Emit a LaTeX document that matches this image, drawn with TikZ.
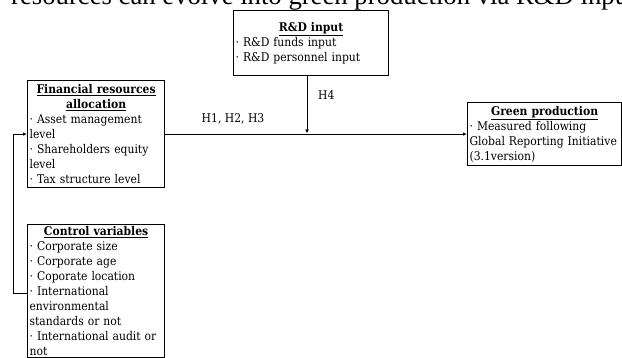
\documentclass[tikz,border=0pt]{standalone}
\usepackage{fontspec}
\setmainfont{DejaVu Serif Condensed}
\newfontfamily\titlefont{Liberation Serif}
\usetikzlibrary{arrows.meta}
\hyphenpenalty=10000
\newcommand\boxhead[1]{\makebox[\linewidth]{\underline{\textbf{#1}}}}
\begin{document}
\begin{tikzpicture}[x=1pt,y=-1pt,
  box/.style={draw, line width=1.2pt, anchor=north west, inner xsep=2pt, inner ysep=1pt,
    align=left, font=\fontsize{12}{15}\selectfont},
  conn/.style={line width=0.9pt, -{Latex[length=4pt,width=3.5pt]}},
  lbl/.style={font=\fontsize{12}{13}\selectfont, inner sep=0pt}]
\useasboundingbox (0,0) rectangle (622,358);
\node[anchor=base west, inner sep=0pt, font=\titlefont\fontsize{26.7}{30}\selectfont] (title) at (11,5)
  {resources can evolve into green production via R\&D input};
\node[box, text width=151pt, minimum height=65pt] (rd) at (233,10)
  {\boxhead{R\&D input}\\ · R\&D funds input\\ · R\&D personnel input};
\node[box, text width=133pt, minimum height=107pt] (fin) at (27,80)
  {\boxhead{Financial resources}\\ \boxhead{allocation}\\ · Asset management\\ level\\ · Shareholders equity\\ level\\ · Tax structure level};
\node[box, text width=150pt, minimum height=63pt] (green) at (467,102)
  {\boxhead{Green production}\\ · Measured following\\ Global Reporting Initiative\\ (3.1version)};
\node[box, text width=133pt, inner ysep=2pt] (ctrl) at (27,224)
  {\boxhead{Control variables}\\ · Corporate size\\ · Corporate age\\ · Coporate location\\ · International\\ environmental\\ standards or not\\ · International audit or\\ not};
\coordinate (j) at (307,133.5);
\draw[conn] (fin.east) -- (fin.east -| green.west);
\draw[conn] (rd.south -| j) -- (j);
\draw[conn] ([yshift=-69pt]ctrl.north west) -- ++(-14,0) |- (fin.west);
\node[lbl, anchor=west] (h4) at (318,95) {H4};
\node[lbl] (h123) at (233,119) {H1, H2, H3};
\end{tikzpicture}
\end{document}
